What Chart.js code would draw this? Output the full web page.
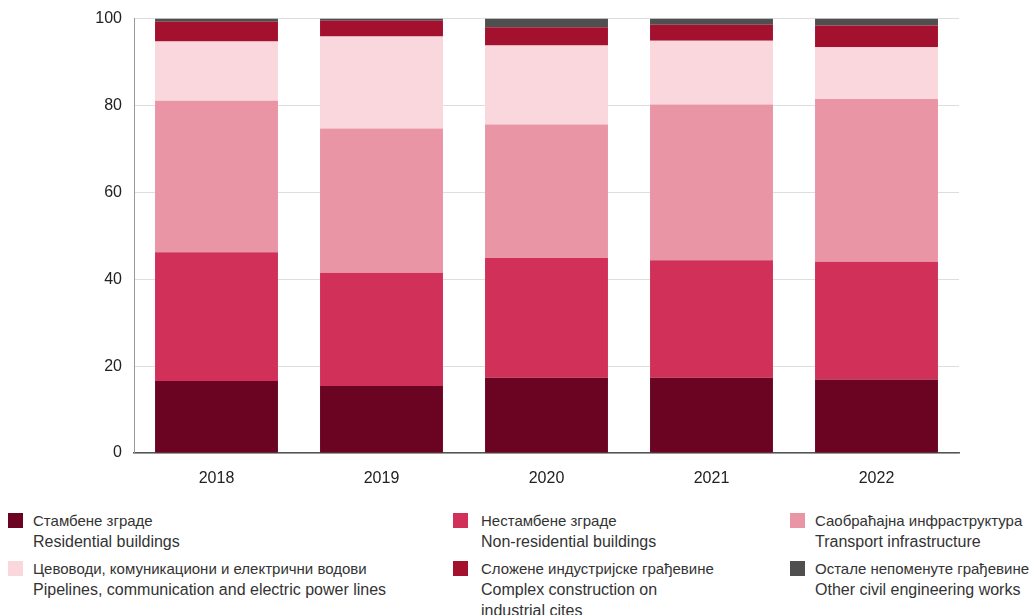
<!DOCTYPE html>
<html>
<head>
<meta charset="utf-8">
<script src="https://cdn.jsdelivr.net/npm/chart.js@4"></script>
<style>
  body { margin: 0; background: #fff; font-family: "Liberation Sans", Arial, sans-serif; }
  #wrap { position: relative; width: 1030px; height: 615px; overflow: hidden; }
  #box { position: absolute; left: 0; top: -3px; width: 1030px; height: 503px; }
  .item { position: absolute; font-size: 16px; color: #333; line-height: 21px; }
  .sw { position: absolute; width: 15px; height: 15px; left: 0; top: 3px; }
  .txt { position: absolute; white-space: nowrap; }
  .sr { font-size: 15px; }
</style>
</head>
<body>
<div id="wrap">
  <div id="box"><canvas id="chart"></canvas></div>
  <div id="legend"></div>
</div>
<script>
// years
var years = ["2018", "2019", "2020", "2021", "2022"];

// shares, %
var residential = [16.6, 15.4, 17.3, 17.3, 16.9];
var nonResidential = [29.6, 26.1, 27.6, 27.1, 27.1];
var transport = [34.9, 33.2, 30.7, 35.8, 37.5];
var pipelines = [13.6, 21.2, 18.2, 14.7, 11.9];
var complexInd = [4.6, 3.6, 4.2, 3.7, 5.0];
var otherWorks = [0.7, 0.5, 2.0, 1.4, 1.6];

var yTicks = [0, 20, 40, 60, 80, 100];

var labelsSr = ["Стамбене зграде", "Нестамбене зграде", "Саобраћајна инфраструктура",
  "Цевоводи, комуникациони и електрични водови", "Сложене индустријске грађевине", "Остале непоменуте грађевине"];
var labelsEn = [["Residential buildings"], ["Non-residential buildings"], ["Transport infrastructure"],
  ["Pipelines, communication and electric power lines"], ["Complex construction on", "industrial cites"],
  ["Other civil engineering works"]];

var colors = ["#6a0422", "#d13058", "#e995a6", "#f9d7dd", "#a3112f", "#4f4f4f"];
var series = [residential, nonResidential, transport, pipelines, complexInd, otherWorks];

var datasets = series.map(function (d, i) {
  return {
    label: labelsSr[i],
    data: d,
    backgroundColor: colors[i],
    borderWidth: 0,
    barPercentage: 0.745,
    categoryPercentage: 1.0
  };
});

new Chart(document.getElementById("chart"), {
  type: 'bar',
  data: { labels: years, datasets: datasets },
  options: {
    responsive: true,
    maintainAspectRatio: false,
    animation: false,
    layout: { padding: { top: 15, right: 71, left: 0, bottom: 0 } },
    plugins: { legend: { display: false }, tooltip: { enabled: false } },
    scales: {
      x: {
        stacked: true,
        grid: { display: false, drawTicks: false },
        border: { color: "#555", width: 1.5 },
        ticks: { color: "#222", font: { size: 16, family: "Liberation Sans" }, padding: 16 },
        afterFit: function (s) { s.height = 47; }
      },
      y: {
        stacked: true,
        min: 0, max: 100,
        afterBuildTicks: function (s) { s.ticks = yTicks.map(function (v) { return { value: v }; }); },
        grid: { color: "#dedede", drawTicks: false },
        border: { color: "#999", width: 1 },
        ticks: { color: "#222", font: { size: 16, family: "Liberation Sans" }, padding: 12 },
        afterFit: function (s) { s.width = 134; }
      }
    }
  }
});

// legend below the chart
var colX = [8, 453, 790];
var textX = [25, 28, 25];
var rowY = [510, 558];
var lg = document.getElementById("legend");
labelsSr.forEach(function (t, i) {
  var c = i % 3, r = Math.floor(i / 3);
  var div = document.createElement("div");
  div.className = "item";
  div.style.left = colX[c] + "px";
  div.style.top = rowY[r] + "px";
  var sw = document.createElement("div");
  sw.className = "sw";
  sw.style.background = colors[i];
  div.appendChild(sw);
  var tx = document.createElement("div");
  tx.className = "txt";
  tx.style.left = textX[c] + "px";
  tx.innerHTML = '<span class="sr">' + t + '</span><br>' + labelsEn[i].join("<br>");
  div.appendChild(tx);
  lg.appendChild(div);
});
</script>
</body>
</html>
